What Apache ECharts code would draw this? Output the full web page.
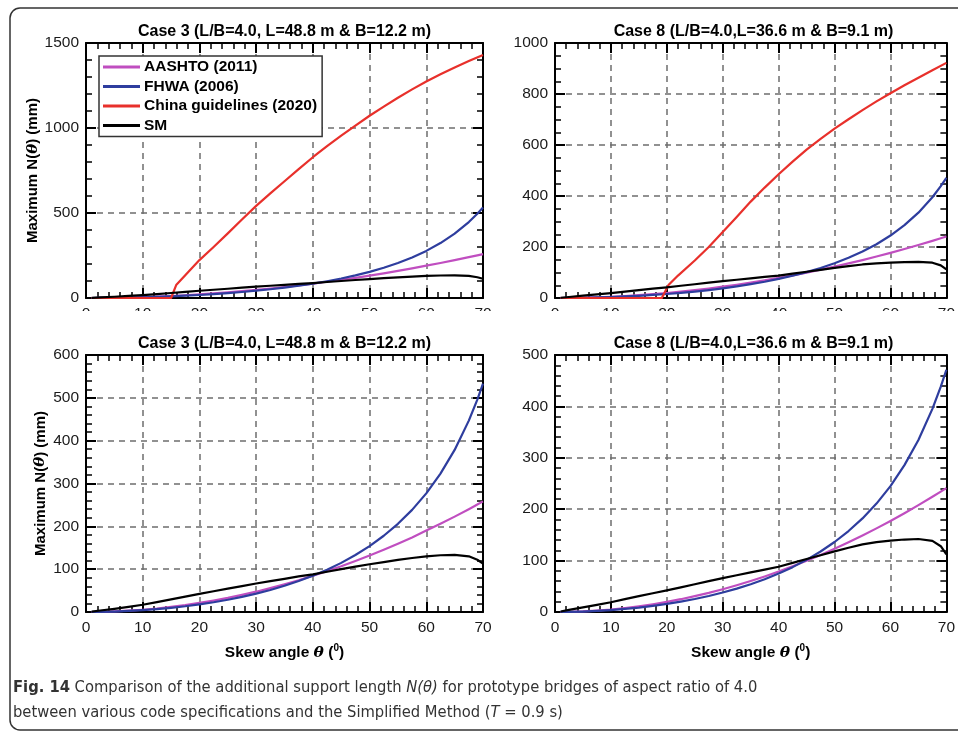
<!DOCTYPE html>
<html><head><meta charset="utf-8">
<script src="https://cdn.jsdelivr.net/npm/echarts@6/dist/echarts.min.js"></script>
<style>html,body{margin:0;padding:0;background:#fff}#c{width:958px;height:731px}</style>
</head><body><div id="c"></div>
<script>
// ---------- data ----------
const xSkew = [1,2.5,5,7.5,10,12.5,15,17.5,20,22.5,25,27.5,30,32.5,35,37.5,40,42.5,45,47.5,50,52.5,55,57.5,60,62.5,65,67.5,69,70];
// Case 3 (L/B=4.0, L=48.8 m & B=12.2 m)
const aashto3 = [0,0.3,1.3,3.0,5.3,8.2,11.9,16.1,21.1,26.7,32.9,39.9,47.4,55.7,64.6,74.1,85,95.5,106.7,118.9,131.8,145.3,159.4,174.2,190,206,222.7,240.1,250.9,258.2];
const fhwa3   = [0,0.3,1.1,2.4,4.3,6.7,9.8,13.4,17.8,22.8,28.6,35.3,42.9,51.4,61.2,72.2,84.6,98.7,114.7,133.1,153.9,178,205.9,238.4,277,323.1,378.4,446.8,496,532.9];
const sm3     = [1,3.5,7.5,12,17,23,29.5,36,42.5,48.5,54.5,60.5,66.5,72,77.5,83,88,94,100,106,111.5,116.5,121.5,126,130,132.5,133.5,130,122,113];
const chinaX3 = [1,15,15.9,17.5,20,22.5,25,27.5,30,32.5,35,37.5,40,42.5,45,47.5,50,52.5,55,57.5,60,62.5,65,67.5,70];
const china3  = [0,0,76,134,223,300,380,462,542,615,687,758,828,893,955,1014,1072,1126,1178,1227,1274,1316,1356,1394,1430];
// Case 8 (L/B=4.0, L=36.6 m & B=9.1 m)
const aashto8 = [0,0.3,1.2,2.8,4.9,7.7,11.1,15.1,19.7,24.9,30.8,37.2,44.3,52,60.3,69.2,78.7,88.9,99.6,111,123,135.6,148.8,162.7,177.1,192.2,207.9,224.2,234.2,241];
const fhwa8   = [0,0.2,0.9,2.1,3.8,6,8.6,11.9,15.7,20.2,25.3,31.2,37.9,45.5,54.1,63.8,74.8,87.3,101.5,117.7,136.2,157.5,182.1,210.9,245,285.8,334.7,395.2,438.6,471.3];
const sm8     = [1,4,9,14,19,25,31,36.5,42,48,54,60,66,71.5,77,82.5,88,95.5,103,110.5,118,125,131.5,136,139,141,142,138.5,128,112];
const chinaX8 = [1,19.1,20.3,22,25,27.5,30,32.5,35,37.5,40,42.5,45,47.5,50,52.5,55,57.5,60,62.5,65,67.5,70];
const china8  = [0,0,51,88,147,200,259,318,378,433,485,535,582,624,664,701,737,771,803,834,864,893,922];

const seriesNames = ['AASHTO (2011)','FHWA (2006)','China guidelines (2020)','SM'];
const seriesColors = ['#C04EC0','#2E3D9E','#E8302B','#000000'];
const titles = ['Case 3 (L/B=4.0, L=48.8 m & B=12.2 m)','Case 8 (L/B=4.0,L=36.6 m & B=9.1 m)',
                'Case 3 (L/B=4.0, L=48.8 m & B=12.2 m)','Case 8 (L/B=4.0,L=36.6 m & B=9.1 m)'];
const yMax = [1500,1000,600,500];
const yInterval = [500,200,100,100];
const yMinorSplit = [5,4,5,5];

// ---------- layout ----------
const font = "'Liberation Sans', Arial, Helvetica, sans-serif";
const grids = [
  {left:86, top:43, width:397, height:255},
  {left:555, top:43, width:397, height:255},
  {left:86, top:355, width:397, height:257},
  {left:555, top:355, width:397, height:257}
];
const zip = (xs, ys) => xs.map((x,i)=>[x, ys[i]]);
const plain = v => String(v);

const axisLine = {show:true, onZero:false, lineStyle:{color:'#000', width:2}};
const axisTick = {show:true, inside:true, length:10, lineStyle:{color:'#000', width:2}};
const splitLine = {show:true, lineStyle:{color:'#6e6e6e', width:1.5, type:[6,5]}};

const xAxis = [], yAxis = [], series = [], title = [];
grids.forEach((g, gi) => {
  const bottomRow = gi >= 2;
  const leftCol = gi % 2 === 0;
  const minorX = {show:true, splitNumber:5, length:6, lineStyle:{color:'#000', width:1.5}};
  const minorY = {show:true, splitNumber:yMinorSplit[gi], length:6, lineStyle:{color:'#000', width:1.5}};
  xAxis.push({
    gridIndex:gi, type:'value', min:0, max:70, interval:10, position:'bottom',
    axisLine, axisTick, minorTick:minorX, splitLine,
    axisLabel:{show:true, fontSize:15.5, color:'#1a1a1a', margin:8, fontFamily:font, formatter:plain},
    name: bottomRow ? 'Skew angle {i|θ} ({s|0})' : '',
    nameLocation:'middle', nameGap:31,
    nameTextStyle:{fontSize:15.5, fontWeight:'bold', color:'#000', fontFamily:font,
      rich:{i:{fontSize:15.5, fontStyle:'italic', fontFamily:"'DejaVu Serif', serif", color:'#000'},
            s:{fontSize:10, fontWeight:'bold', fontFamily:font, color:'#000', padding:[0,0,9,0]}}}
  });
  xAxis.push({
    gridIndex:gi, type:'value', min:0, max:70, interval:10, position:'top',
    axisLine, axisTick, minorTick:minorX, splitLine:{show:false}, axisLabel:{show:false}
  });
  yAxis.push({
    gridIndex:gi, type:'value', min:0, max:yMax[gi], interval:yInterval[gi], position:'left',
    axisLine, axisTick, minorTick:minorY, splitLine,
    axisLabel:{show:true, fontSize:15.5, color:'#1a1a1a', margin:7, fontFamily:font, formatter:plain},
    name: leftCol ? 'Maximum N({i|θ}) (mm)' : '',
    nameLocation:'middle', nameGap: bottomRow ? 38 : 42, nameRotate:90,
    nameTextStyle:{fontSize:15, fontWeight:'bold', color:'#000', fontFamily:font,
      rich:{i:{fontSize:15, fontStyle:'italic', fontFamily:"'DejaVu Serif', serif", color:'#000'}}}
  });
  yAxis.push({
    gridIndex:gi, type:'value', min:0, max:yMax[gi], interval:yInterval[gi], position:'right',
    axisLine, axisTick, minorTick:minorY, splitLine:{show:false}, axisLabel:{show:false}
  });
  title.push({
    text: titles[gi], left: g.left + g.width/2, top: bottomRow ? 336 : 24, textAlign:'center',
    padding:0,
    textStyle:{fontSize:16, fontWeight:'bold', color:'#000', fontFamily:font}
  });
  const is3 = leftCol;
  const data = [
    zip(xSkew, is3 ? aashto3 : aashto8),
    zip(xSkew, is3 ? fhwa3 : fhwa8),
    bottomRow ? null : (is3 ? zip(chinaX3, china3) : zip(chinaX8, china8)),
    zip(xSkew, is3 ? sm3 : sm8)
  ];
  data.forEach((d, si) => {
    if (!d) return;
    series.push({
      type:'line', name:seriesNames[si], xAxisIndex:2*gi, yAxisIndex:2*gi,
      data:d, showSymbol:false, symbol:'none', silent:true, animation:false,
      smooth:false,
      lineStyle:{color:seriesColors[si], width:2.2, join:'round'}, itemStyle:{color:seriesColors[si]}
    });
  });
});

const capFont = "'Liberation Sans Narrow', 'DejaVu Sans Condensed', sans-serif";
const option = {
  animation:false,
  backgroundColor:'#fff',
  title,
  grid: grids.map(g => Object.assign({containLabel:false}, g)),
  xAxis, yAxis, series,
  legend:{
    data: seriesNames, orient:'vertical', left:99, top:56,
    padding:[3,5,3,4], itemGap:3.5, itemWidth:37, itemHeight:3, icon:'rect',
    backgroundColor:'#fff', borderColor:'#333', borderWidth:1.5, borderRadius:0,
    selectedMode:false, z:10,
    textStyle:{fontSize:15.5, fontWeight:'bold', color:'#000', fontFamily:font, padding:[0,0,0,-1]}
  },
  graphic:[
    {type:'rect', z:100, silent:true, shape:{x:12, y:311, width:946, height:21}, style:{fill:'#fff'}},
    {type:'rect', z:100, silent:true, shape:{x:10, y:8, width:990, height:722, r:10},
     style:{fill:'none', stroke:'#333', lineWidth:1.5}},
    {type:'text', z:100, left:13, top:680, silent:true,
     style:{text:'{b|Fig. 14} Comparison of the additional support length {i|N(θ)} for prototype bridges of aspect ratio of 4.0',
       font:"16.4px " + capFont, fill:'#333',
       rich:{b:{font:"bold 16.4px " + capFont, fill:'#333'},
             i:{font:"italic 16.4px " + capFont, fill:'#333'}}}},
    {type:'text', z:100, left:13, top:705, silent:true,
     style:{text:'between various code specifications and the Simplified Method ({i|T} = 0.9 s)',
       font:"16.4px " + capFont, fill:'#333',
       rich:{i:{font:"italic 16.4px " + capFont, fill:'#333'}}}}
  ]
};
const chart = echarts.init(document.getElementById('c'), null, {renderer:'canvas'});
chart.setOption(option);
</script></body></html>
